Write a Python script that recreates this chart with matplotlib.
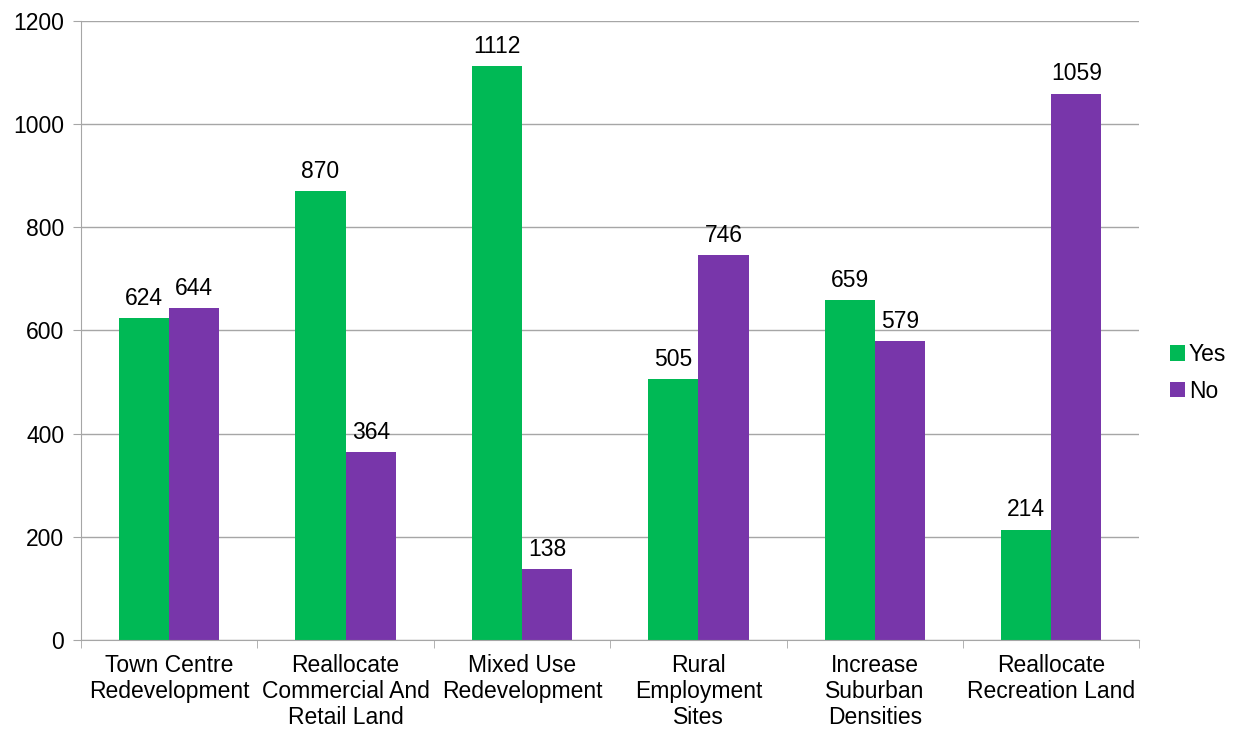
import numpy as np
import matplotlib.pyplot as plt
from matplotlib.patches import Patch

categories = ['Town Centre\nRedevelopment', 'Reallocate\nCommercial And\nRetail Land',
              'Mixed Use\nRedevelopment', 'Rural\nEmployment\nSites',
              'Increase\nSuburban\nDensities', 'Reallocate\nRecreation Land']
yes_vals = [624, 870, 1112, 505, 659, 214]
no_vals = [644, 364, 138, 746, 579, 1059]

GREEN = '#00B955'
PURPLE = '#7836AA'
GRID = '#A6A6A6'
FS = 16.5

plt.rcParams['font.family'] = ['Liberation Sans', 'DejaVu Sans']

fig = plt.figure(figsize=(12.35, 7.31), dpi=100)
ax = fig.add_axes([0.0656, 0.1245, 0.857, 0.8468])

x = np.arange(len(categories))
w = 0.285
b1 = ax.bar(x - w / 2, yes_vals, w, color=GREEN, label='Yes')
b2 = ax.bar(x + w / 2, no_vals, w, color=PURPLE, label='No')

for bars in (b1, b2):
    for r in bars:
        ax.text(r.get_x() + r.get_width() / 2, r.get_height() + 16, f'{int(r.get_height())}',
                ha='center', va='bottom', fontsize=FS)

ax.set_xlim(-0.5, len(categories) - 0.5)
ax.set_ylim(0, 1200)
ax.set_yticks(range(0, 1201, 200))
ax.yaxis.grid(True, color=GRID, linewidth=1)
ax.set_axisbelow(True)

ax.set_xticks(x)
ax.set_xticklabels(categories, fontsize=FS, linespacing=1.17)
ax.tick_params(axis='x', length=0, pad=10)
ax.set_xticks(np.arange(-0.5, len(categories)), minor=True)
ax.tick_params(axis='x', which='minor', length=6, color=GRID)
ax.tick_params(axis='y', labelsize=FS, length=6, color=GRID, pad=6)

for s in ['top', 'right']:
    ax.spines[s].set_visible(False)
ax.spines['left'].set_color(GRID)
ax.spines['bottom'].set_color(GRID)

handles = [Patch(facecolor=GREEN, label='Yes'), Patch(facecolor=PURPLE, label='No')]
fig.legend(handles=handles, loc='center left', bbox_to_anchor=(0.931, 0.49),
           frameon=False, fontsize=FS, handlelength=0.65, handleheight=0.65,
           handletextpad=0.15, labelspacing=0.6)

fig.savefig('out.png')
